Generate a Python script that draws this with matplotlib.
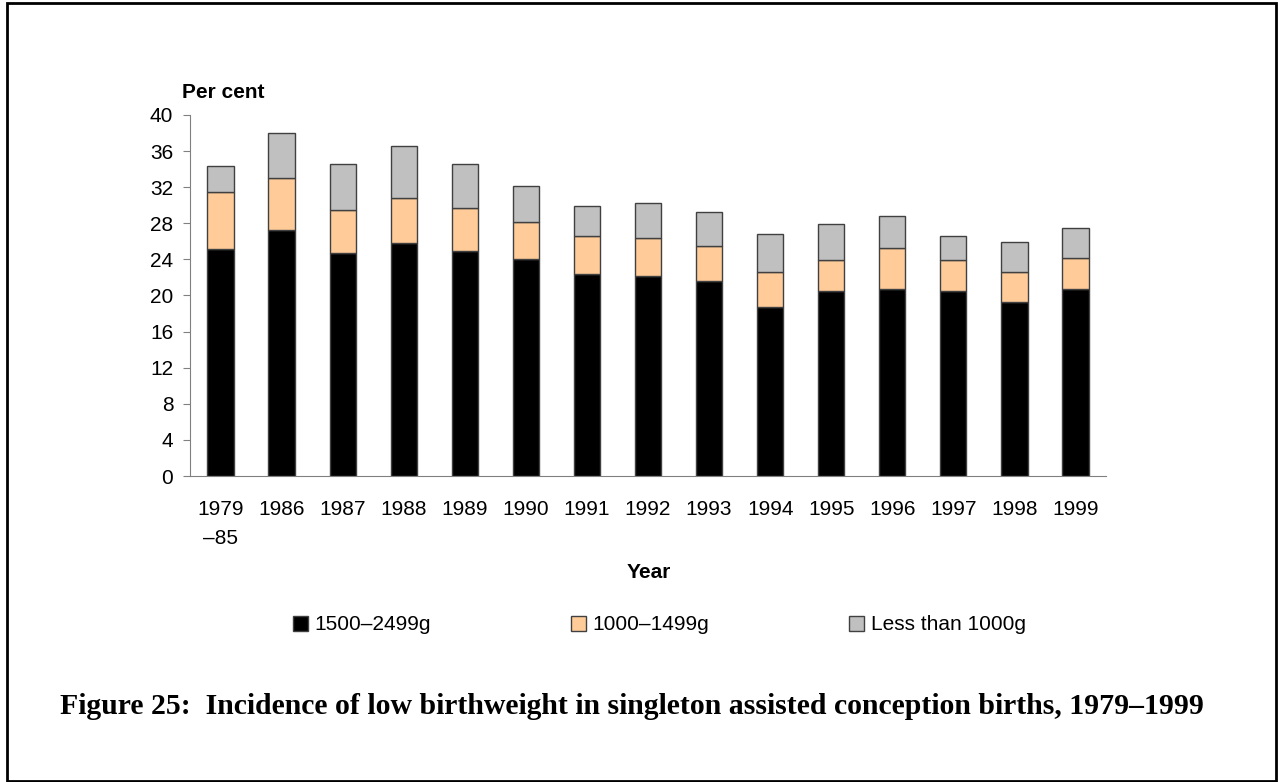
import matplotlib.pyplot as plt
from matplotlib.patches import Rectangle
import numpy as np

years = ['1979\n\u201385', '1986', '1987', '1988', '1989', '1990', '1991', '1992',
         '1993', '1994', '1995', '1996', '1997', '1998', '1999']
# totals (top of each segment)
black_top = [25.1, 27.3, 24.7, 25.8, 24.9, 24.0, 22.4, 22.2, 21.6, 18.7, 20.45, 20.7, 20.45, 19.3, 20.7]
orange_top = [31.5, 33.05, 29.5, 30.8, 29.7, 28.1, 26.6, 26.4, 25.5, 22.6, 23.9, 25.3, 23.9, 22.6, 24.2]
grey_top = [34.4, 38.0, 34.6, 36.6, 34.6, 32.1, 29.9, 30.2, 29.3, 26.8, 27.9, 28.8, 26.6, 25.95, 27.5]

heavy = np.array(black_top)
mid = np.array(orange_top) - heavy
light = np.array(grey_top) - np.array(orange_top)

plt.rcParams['font.family'] = ['Liberation Sans', 'DejaVu Sans']
fs = 15

fig = plt.figure(figsize=(12.78, 7.82), dpi=100)
ax = fig.add_axes([190 / 1278, (782 - 476) / 782, (1106 - 190) / 1278, (476 - 115) / 782])

x = np.arange(len(years))
bw = 0.43
ec = '#404040'
b1 = ax.bar(x, heavy, bw, color='black', edgecolor=ec, linewidth=1)
b2 = ax.bar(x, mid, bw, bottom=heavy, color='#FFCC99', edgecolor=ec, linewidth=1)
b3 = ax.bar(x, light, bw, bottom=heavy + mid, color='#C0C0C0', edgecolor=ec, linewidth=1)

ax.set_xlim(-0.5, 14.5)
ax.set_ylim(0, 40)
ax.set_yticks(range(0, 41, 4))
ax.set_xticks(x)
ax.set_xticklabels(years, fontsize=fs, linespacing=1.7, va='top')
ax.tick_params(axis='x', length=0, pad=17)
ax.tick_params(axis='y', labelsize=fs, length=5, color='#808080', pad=7)
for s in ['top', 'right']:
    ax.spines[s].set_visible(False)
ax.spines['left'].set_color('#808080')
ax.spines['bottom'].set_color('#808080')

fig.text(182 / 1278, 1 - 93 / 782, 'Per cent', fontsize=fs, fontweight='bold', va='center')
fig.text(649 / 1278, 1 - 573 / 782, 'Year', fontsize=fs, fontweight='bold', ha='center', va='center')

leg = fig.legend([b1, b2, b3], ['1500\u20132499g', '1000\u20131499g', 'Less than 1000g'],
                 loc='center left', bbox_to_anchor=(293 / 1278, 1 - 625 / 782), ncol=3,
                 frameon=False, fontsize=fs, handlelength=0.7, handleheight=0.7,
                 handletextpad=0.35, columnspacing=6.7, borderpad=0, borderaxespad=0)

fig.text(60 / 1278, 1 - 707 / 782,
         'Figure 25:  Incidence of low birthweight in singleton assisted conception births, 1979\u20131999',
         fontsize=21.4, fontweight='bold', family='Liberation Serif', va='center')

fig.patches.append(Rectangle((7 / 1278, 1 / 782), 1269 / 1278, 778 / 782, transform=fig.transFigure,
                             fill=False, edgecolor='black', linewidth=2))

fig.savefig('out.png', dpi=100)
